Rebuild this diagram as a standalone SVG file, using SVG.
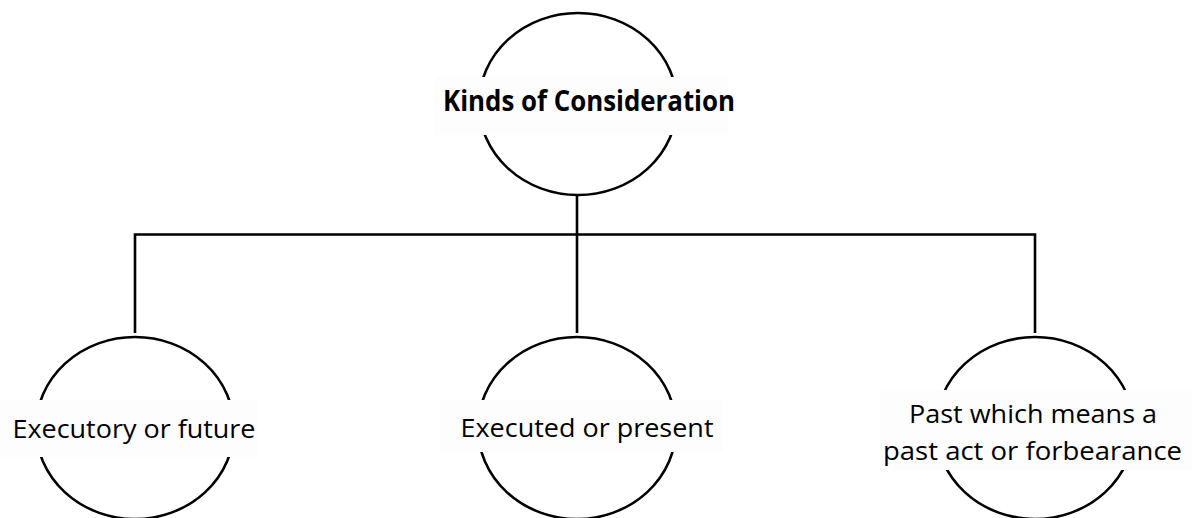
<svg xmlns="http://www.w3.org/2000/svg" width="1192" height="518" viewBox="0 0 1192 518">
<style>
.node{fill:#ffffff;stroke:#000000;stroke-width:2.6}
.box{fill:#fdfdfd;stroke:none}
.t{font-family:"Open Sans","Liberation Sans",sans-serif;font-size:25.5px;fill:#000000}
.b{font-weight:bold;font-size:28.5px}
.conn{fill:none;stroke:#000000;stroke-width:2.6}
</style>
<rect width="1192" height="518" fill="#ffffff"/>
<g id="connectors">
<line class="conn" x1="577" y1="195" x2="577" y2="333"/>
<polyline class="conn" points="135,333 135,234.5 1035,234.5 1035,333"/>
</g>
<g id="n-kinds">
<ellipse class="node" cx="578" cy="104" rx="99" ry="91"/>
<rect class="box" x="435" y="77" width="293" height="58"/>
<text class="t b" x="443" y="111" textLength="292" lengthAdjust="spacingAndGlyphs">Kinds of Consideration</text>
</g>
<g id="n-executory">
<ellipse class="node" cx="135" cy="428" rx="99" ry="91"/>
<rect class="box" x="0" y="400" width="257" height="57"/>
<text class="t" x="12.5" y="437.5" textLength="243" lengthAdjust="spacingAndGlyphs">Executory or future</text>
</g>
<g id="n-executed">
<ellipse class="node" cx="577" cy="428" rx="99" ry="91"/>
<rect class="box" x="440" y="400" width="283" height="52"/>
<text class="t" x="460.5" y="437" textLength="253" lengthAdjust="spacingAndGlyphs">Executed or present</text>
</g>
<g id="n-past">
<ellipse class="node" cx="1035" cy="428" rx="99" ry="91"/>
<rect class="box" x="880" y="390" width="312" height="80"/>
<text class="t" x="909" y="423" textLength="248" lengthAdjust="spacingAndGlyphs">Past which means a</text>
<text class="t" x="883" y="459.5" textLength="299" lengthAdjust="spacingAndGlyphs">past act or forbearance</text>
</g>
</svg>
